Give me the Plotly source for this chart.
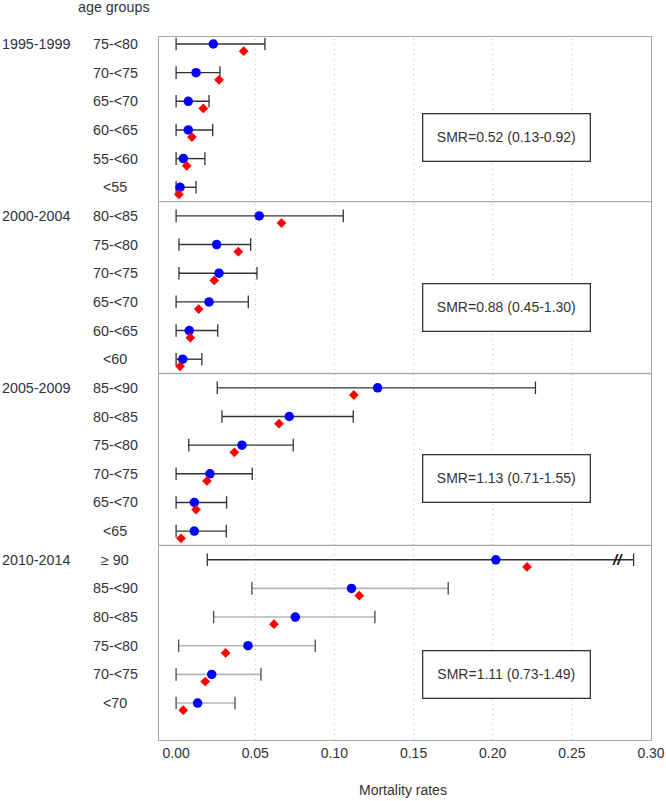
import plotly.graph_objects as go

# ---------------- data ----------------
periods = ["1995-1999", "2000-2004", "2005-2009", "2010-2014"]

age_groups_1995 = ["75-<80", "70-<75", "65-<70", "60-<65", "55-<60", "<55"]
age_groups_2000 = ["80-<85", "75-<80", "70-<75", "65-<70", "60-<65", "<60"]
age_groups_2005 = ["85-<90", "80-<85", "75-<80", "70-<75", "65-<70", "<65"]
age_groups_2010 = ["\u2265 90", "85-<90", "80-<85", "75-<80", "70-<75", "<70"]

observed_1995 = [0.0235, 0.0126, 0.0077, 0.0077, 0.0046, 0.0025]
lower_1995 = [0.0, 0.0, 0.0, 0.0, 0.0, 0.0]
upper_1995 = [0.0561, 0.0277, 0.0208, 0.0231, 0.0182, 0.0126]
expected_1995 = [0.0427, 0.0271, 0.0172, 0.0100, 0.0067, 0.0018]

observed_2000 = [0.0525, 0.0256, 0.0271, 0.0208, 0.0083, 0.0042]
lower_2000 = [0.0, 0.0018, 0.0018, 0.0, 0.0, 0.0]
upper_2000 = [0.1056, 0.0471, 0.0511, 0.0456, 0.0263, 0.0163]
expected_2000 = [0.0666, 0.0393, 0.0241, 0.0143, 0.0090, 0.0025]

observed_2005 = [0.1273, 0.0715, 0.0416, 0.0214, 0.0115, 0.0115]
lower_2005 = [0.026, 0.029, 0.008, 0.0, 0.0, 0.0]
upper_2005 = [0.227, 0.1119, 0.074, 0.0481, 0.0319, 0.0317]
expected_2005 = [0.1123, 0.0650, 0.0368, 0.0195, 0.0126, 0.0031]

observed_2010 = [0.202, 0.1108, 0.0753, 0.0454, 0.0225, 0.0136]
lower_2010 = [0.0197, 0.0479, 0.0237, 0.0016, 0.0, 0.0]
upper_2010 = [0.289, 0.1719, 0.1256, 0.0879, 0.0536, 0.0372]
expected_2010 = [0.2217, 0.1157, 0.0618, 0.0313, 0.0184, 0.0045]

smr_labels = ["SMR=0.52 (0.13-0.92)", "SMR=0.88 (0.45-1.30)",
              "SMR=1.13 (0.71-1.55)", "SMR=1.11 (0.73-1.49)"]

x_ticks = [0.00, 0.05, 0.10, 0.15, 0.20, 0.25, 0.30]
axis_break_at = 0.279  # upper CI of the >=90 group is truncated

age_groups = [age_groups_1995, age_groups_2000, age_groups_2005, age_groups_2010]
observed = [observed_1995, observed_2000, observed_2005, observed_2010]
lower = [lower_1995, lower_2000, lower_2005, lower_2010]
upper = [upper_1995, upper_2000, upper_2005, upper_2010]
expected = [expected_1995, expected_2000, expected_2005, expected_2010]

# ---------------- styling ----------------
FONT = "Liberation Sans, Arial, sans-serif"
TXT = "#333333"
DARK = "#333333"
LIGHT = "#b5b5b5"
FRAME = "#a8a8a8"
n_rows = len(age_groups_1995)
diamond_shift = 0.25

dark_x, dark_y, light_x, light_y = [], [], [], []
capd_x, capd_y, capl_x, capl_y = [], [], [], []
obs_x, obs_y, exp_x, exp_y = [], [], [], []
for p in range(len(periods)):
    for k in range(n_rows):
        y = p * n_rows + k
        lo, hi = lower[p][k], upper[p][k]
        light = (p == len(periods) - 1 and k > 0)
        if light:
            light_x += [lo, hi, None]; light_y += [y, y, None]
            capl_x += [lo, hi]; capl_y += [y, y]
        else:
            dark_x += [lo, hi, None]; dark_y += [y, y, None]
            capd_x += [lo, hi]; capd_y += [y, y]
        obs_x.append(observed[p][k]); obs_y.append(y)
        exp_x.append(expected[p][k]); exp_y.append(y + diamond_shift)

fig = go.Figure()
fig.add_trace(go.Scatter(x=light_x, y=light_y, mode="lines",
                         line=dict(color=LIGHT, width=1.6), hoverinfo="skip"))
fig.add_trace(go.Scatter(x=dark_x, y=dark_y, mode="lines",
                         line=dict(color=DARK, width=1.4), hoverinfo="skip"))
fig.add_trace(go.Scatter(x=capd_x, y=capd_y, mode="markers",
                         marker=dict(symbol="line-ns-open", size=9, color=DARK,
                                     line=dict(color=DARK, width=1.3))))
fig.add_trace(go.Scatter(x=capl_x, y=capl_y, mode="markers",
                         marker=dict(symbol="line-ns-open", size=9, color="#555555",
                                     line=dict(color="#555555", width=1.4))))
fig.add_trace(go.Scatter(x=obs_x, y=obs_y, mode="markers",
                         marker=dict(symbol="circle", size=9.5, color="#0000ff")))
fig.add_trace(go.Scatter(x=exp_x, y=exp_y, mode="markers",
                         marker=dict(symbol="diamond", size=7.5, color="#ff0000")))

shapes = []
for v in x_ticks[1:-1]:
    shapes.append(dict(type="line", xref="x", yref="paper", x0=v, x1=v, y0=0, y1=1,
                       line=dict(color="#bdbdbd", width=1, dash="1px,4px"), layer="below"))
for p in range(1, len(periods)):
    yv = p * n_rows - 0.5
    shapes.append(dict(type="line", xref="paper", yref="y", x0=0, x1=1, y0=yv, y1=yv,
                       line=dict(color=FRAME, width=1.3)))

plot_left, plot_w, plot_top, plot_h = 159, 492, 37, 703

def px_x(px):
    return (px - plot_left) / plot_w

annotations = []
annotations.append(dict(text="age groups", xref="paper", yref="paper",
                        x=px_x(113.5), y=1 + (plot_top - 7) / plot_h,
                        xanchor="center", yanchor="middle", showarrow=False,
                        font=dict(family=FONT, size=14.3, color=TXT)))
for p in range(len(periods)):
    annotations.append(dict(text=periods[p], xref="paper", yref="y",
                            x=px_x(0), y=p * n_rows, xanchor="left", yanchor="middle",
                            showarrow=False, font=dict(family=FONT, size=14.3, color=TXT)))
    for k in range(n_rows):
        annotations.append(dict(text=age_groups[p][k], xref="paper", yref="y",
                                x=px_x(115), y=p * n_rows + k,
                                xanchor="center", yanchor="middle", showarrow=False,
                                font=dict(family=FONT, size=14.3, color=TXT)))

smr_y = [3.25, 9.19, 15.15, 22.02]
for p in range(len(periods)):
    annotations.append(dict(text=smr_labels[p], xref="x", yref="y",
                            x=0.209, y=smr_y[p], xanchor="center", yanchor="middle",
                            showarrow=False, width=164, height=44, borderpad=1,
                            bordercolor="#333333", borderwidth=1.3, bgcolor="white",
                            font=dict(family=FONT, size=14, color=TXT)))

annotations.append(dict(text="<b><i>//</i></b>", xref="x", yref="y",
                        x=axis_break_at, y=(len(periods) - 1) * n_rows,
                        xanchor="center", yanchor="middle", showarrow=False,
                        font=dict(family=FONT, size=15, color="#111111")))

annotations.append(dict(text="Mortality rates", xref="paper", yref="paper",
                        x=0.5 - 2 / plot_w, y=-(790 - 740) / plot_h,
                        xanchor="center", yanchor="middle", showarrow=False,
                        font=dict(family=FONT, size=14, color=TXT)))

fig.update_layout(
    width=666, height=801,
    margin=dict(l=plot_left, r=666 - plot_left - plot_w, t=plot_top,
                b=801 - plot_top - plot_h, autoexpand=False),
    paper_bgcolor="white", plot_bgcolor="white",
    showlegend=False,
    shapes=shapes, annotations=annotations,
    xaxis=dict(range=[-0.0108, 0.30], tickvals=x_ticks,
               ticktext=[f"{v:.2f}" for v in x_ticks],
               showgrid=False, zeroline=False, showline=True, mirror=True,
               linecolor=FRAME, linewidth=1.3, ticks="", automargin=False,
               tickfont=dict(family=FONT, size=14, color=TXT)),
    yaxis=dict(range=[24.29, -0.244], showticklabels=False, showgrid=False,
               zeroline=False, showline=True, mirror=True, automargin=False,
               linecolor=FRAME, linewidth=1.3, ticks=""),
)

fig.write_html("out.html", config={"displayModeBar": False},
               post_script="document.body.style.margin='0';document.body.style.overflow='hidden';")
